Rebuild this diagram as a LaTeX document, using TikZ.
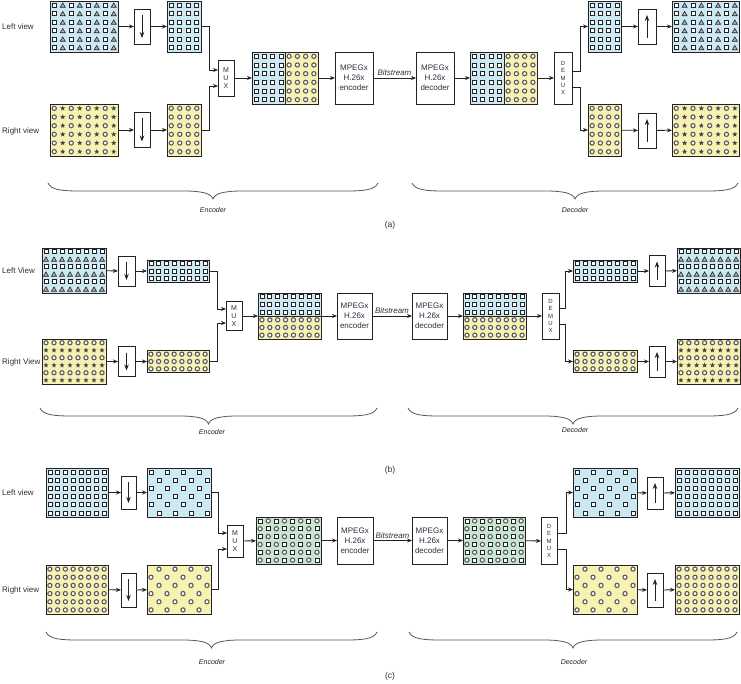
\documentclass[tikz,border=0pt]{standalone}
\usepackage{fontspec}
\setmainfont{Liberation Sans}
\usetikzlibrary{arrows.meta,calc}
\definecolor{cblue}{HTML}{CDE8F5}
\definecolor{cyel}{HTML}{F8F1B4}
\definecolor{cgreen}{HTML}{C8E5D2}
\definecolor{ink}{HTML}{222222}
\definecolor{txt}{HTML}{2E2E3E}
\tikzset{
 gbox/.style={draw=ink, line width=0.9pt, inner sep=0pt, outer sep=0pt},
 pbox/.style={draw=ink, fill=white, line width=0.8pt, inner sep=0pt, outer sep=0pt, align=center, font=\fontsize{8}{10}\selectfont, text=txt},
 muxbox/.style={pbox, font=\fontsize{7}{8}\selectfont},
 dmxbox/.style={pbox, font=\fontsize{6}{7.3}\selectfont},
 arr/.style={draw=ink, line width=0.8pt, -{Stealth[length=5pt,width=4pt]}},
 inarr/.style={arr, line width=0.9pt, shorten <=6pt, shorten >=6pt, -{Stealth[length=6pt,width=4.5pt]}},
 lbl/.style={anchor=west, font=\fontsize{8}{9}\selectfont, text=txt, inner sep=0pt},
 bitl/.style={above=1pt, inner sep=1pt, font=\fontsize{8}{9}\selectfont\itshape, text=txt},
 brl/.style={font=\fontsize{7}{8}\selectfont\itshape, text=ink, inner sep=0pt},
 capl/.style={font=\fontsize{8.5}{9}\selectfont, text=txt, inner sep=0pt},
 brc/.style={draw=ink!75, line width=0.8pt},
 symsq/.style={draw=ink, fill=white, line width=0.7pt},
 symci/.style={draw=ink!75, fill=white, line width=1.1pt},
 symtr/.style={draw=ink, fill=gray!60, line width=0.6pt},
 symst/.style={fill=ink!85},
}
\newcommand\mySq[2]{\draw[symsq] (#1-2,#2-2) rectangle (#1+2,#2+2);}
\newcommand\myCi[2]{\draw[symci] (#1,#2) circle[radius=2.1];}
\newcommand\myTr[2]{\draw[symtr] (#1,#2-2.3) -- (#1+2.5,#2+2) -- (#1-2.5,#2+2) -- cycle;}
\newcommand\mySt[2]{\fill[symst,shift={(#1,#2)}] (-90:2.7) -- (-54:1.15) -- (-18:2.7) -- (18:1.15) -- (54:2.7) -- (90:1.15) -- (126:2.7) -- (162:1.15) -- (198:2.7) -- (234:1.15) -- cycle;}
\newcommand\mySymb[3]{\ifcase#1\relax\mySq{#2}{#3}\or\myCi{#2}{#3}\or\myTr{#2}{#3}\or\mySt{#2}{#3}\else\fi}
% name, fill, cx, cy, w, h, ncols, nrows, type expression
\newcommand\gridnode[9]{%
  \node[gbox,fill=#2,minimum width=#5pt,minimum height=#6pt] (#1) at (#3,#4) {};
  \foreach \ci in {1,...,#7}{\foreach \ri in {1,...,#8}{%
    \pgfmathtruncatemacro\tp{#9}%
    \pgfmathsetmacro\cx{#3-#5/2+(\ci-0.5)*#5/#7}%
    \pgfmathsetmacro\cy{#4-#6/2+(\ri-0.5)*#6/#8}%
    \mySymb{\tp}{\cx}{\cy}}}}
% x0, x1, y
\newcommand\bracex[3]{%
  \pgfmathsetmacro\xm{(#1+#2)/2}%
  \draw[brc] (#1,#3) .. controls (#1+3,#3+7) and (#1+14,#3+8) .. (#1+32,#3+8) -- (\xm-30,#3+8) .. controls (\xm-12,#3+8) and (\xm-2,#3+10) .. (\xm,#3+16) .. controls (\xm+2,#3+10) and (\xm+12,#3+8) .. (\xm+30,#3+8) -- (#2-32,#3+8) .. controls (#2-14,#3+8) and (#2-3,#3+7) .. (#2,#3);}
\begin{document}
\begin{tikzpicture}[x=1pt,y=-1pt]
\useasboundingbox (0,0) rectangle (741,684);
%%%%%%%%%%%%%%%%%%%% (a)
\node[lbl] (aLt) at (2,27) {Left view};
\node[lbl] (aRt) at (2,131) {Right view};
\gridnode{aL}{cblue}{84}{26.5}{68}{51}{8}{6}{ifthenelse(mod(\ci,2)==1,0,2)}
\node[pbox,minimum width=16pt,minimum height=35pt] (aLd) at (142,26.5) {};
\gridnode{aLs}{cblue}{184}{26.5}{34}{51}{4}{6}{0}
\gridnode{aR}{cyel}{84}{130}{68}{52}{8}{6}{ifthenelse(mod(\ci,2)==1,1,3)}
\node[pbox,minimum width=16pt,minimum height=35pt] (aRd) at (142,130) {};
\gridnode{aRs}{cyel}{184}{130}{34}{52}{4}{6}{1}
\node[muxbox,minimum width=16pt,minimum height=36pt] (aMux) at (226,78) {M\\U\\X};
\gridnode{aCl}{cblue}{268.5}{78}{33}{52}{4}{6}{0}
\gridnode{aCr}{cyel}{301.5}{78}{33}{52}{4}{6}{1}
\node[gbox,minimum width=66pt,minimum height=52pt] (aC) at (285,78) {};
\node[pbox,minimum width=38pt,minimum height=52pt] (aEnc) at (354,78) {MPEGx\\H.26x\\encoder};
\node[pbox,minimum width=38pt,minimum height=52pt] (aDec) at (435,78) {MPEGx\\H.26x\\decoder};
\gridnode{aC2l}{cblue}{487}{78}{34}{52}{4}{6}{0}
\gridnode{aC2r}{cyel}{520.5}{78}{33}{52}{4}{6}{1}
\node[gbox,minimum width=67pt,minimum height=52pt] (aC2) at (503.5,78) {};
\node[dmxbox,minimum width=18pt,minimum height=52pt] (aDmx) at (563,78) {D\\E\\M\\U\\X};
\gridnode{aLs2}{cblue}{604.5}{26.5}{33}{51}{4}{6}{0}
\node[pbox,minimum width=18pt,minimum height=35pt] (aLu) at (647,26.5) {};
\gridnode{aL2}{cblue}{705.5}{26.5}{67}{51}{8}{6}{ifthenelse(mod(\ci,2)==1,0,2)}
\gridnode{aRs2}{cyel}{604.5}{130}{33}{52}{4}{6}{1}
\node[pbox,minimum width=18pt,minimum height=35pt] (aRu) at (647,130.5) {};
\gridnode{aR2}{cyel}{705.5}{130}{67}{52}{8}{6}{ifthenelse(mod(\ci,2)==1,1,3)}
\draw[arr] (aL) -- (aLd);
\draw[arr] (aLd) -- (aLs);
\draw[arr] (aR) -- (aRd);
\draw[arr] (aRd) -- (aRs);
\draw[inarr] (aLd.north) -- (aLd.south);
\draw[inarr] (aRd.north) -- (aRd.south);
\draw[arr] (aLs.east) -- ++(8,0) |- ([shift={(0,-8)}]aMux.west);
\draw[arr] (aRs.east) -- ++(8,0) |- ([shift={(0,8)}]aMux.west);
\draw[arr] (aMux) -- (aC);
\draw[arr] (aC) -- (aEnc);
\draw[arr] (aEnc) -- node[bitl] (aBit) {Bitstream} (aDec);
\draw[arr] (aDec) -- (aC2);
\draw[arr] (aC2) -- (aDmx);
\draw[arr] ([shift={(0,-7)}]aDmx.east) -- ++(8,0) |- (aLs2);
\draw[arr] ([shift={(0,9)}]aDmx.east) -- ++(8,0) |- (aRs2);
\draw[arr] (aLs2) -- (aLu);
\draw[arr] (aLu) -- (aL2);
\draw[arr] (aRs2) -- (aRu);
\draw[arr] (aRu) -- (aR2);
\draw[inarr] (aLu.south) -- (aLu.north);
\draw[inarr] (aRu.south) -- (aRu.north);
\bracex{48}{378}{183}
\bracex{412}{738}{183}
\node[brl] (aEl) at (213,210) {Encoder};
\node[brl] (aDl) at (575,210) {Decoder};
\node[capl] (aCap) at (390,225) {(a)};
%%%%%%%%%%%%%%%%%%%% (b)
\node[lbl] (bLt) at (2,271) {Left View};
\node[lbl] (bRt) at (2,362) {Right View};
\gridnode{bL}{cblue}{74}{270.5}{64}{45}{8}{6}{ifthenelse(mod(\ri,2)==1,0,2)}
\node[pbox,minimum width=17pt,minimum height=30pt] (bLd) at (126.5,271) {};
\gridnode{bLs}{cblue}{178}{271}{62}{22}{8}{3}{0}
\gridnode{bR}{cyel}{74}{361.5}{64}{45}{8}{6}{ifthenelse(mod(\ri,2)==1,1,3)}
\node[pbox,minimum width=17pt,minimum height=30pt] (bRd) at (126.5,361.5) {};
\gridnode{bRs}{cyel}{178}{361.5}{62}{22}{8}{3}{1}
\node[muxbox,minimum width=16pt,minimum height=29pt] (bMux) at (234,316) {M\\U\\X};
\gridnode{bCt}{cblue}{289.5}{304.5}{63}{23}{8}{3}{0}
\gridnode{bCb}{cyel}{289.5}{327.5}{63}{23}{8}{3}{1}
\node[gbox,minimum width=63pt,minimum height=46pt] (bC) at (289.5,316) {};
\node[pbox,minimum width=35pt,minimum height=46pt] (bEnc) at (354.5,316) {MPEGx\\H.26x\\encoder};
\node[pbox,minimum width=35pt,minimum height=46pt] (bDec) at (429.5,316) {MPEGx\\H.26x\\decoder};
\gridnode{bC2t}{cblue}{494.5}{304.5}{63}{23}{8}{3}{0}
\gridnode{bC2b}{cyel}{494.5}{327.5}{63}{23}{8}{3}{1}
\node[gbox,minimum width=63pt,minimum height=46pt] (bC2) at (494.5,316) {};
\node[dmxbox,minimum width=17pt,minimum height=46pt] (bDmx) at (550.5,316) {D\\E\\M\\U\\X};
\gridnode{bLs2}{cblue}{605}{271}{64}{22}{8}{3}{0}
\node[pbox,minimum width=16pt,minimum height=31pt] (bLu) at (657,271) {};
\gridnode{bL2}{cblue}{708.5}{270.5}{63}{45}{8}{6}{ifthenelse(mod(\ri,2)==1,0,2)}
\gridnode{bRs2}{cyel}{605}{361.5}{64}{22}{8}{3}{1}
\node[pbox,minimum width=16pt,minimum height=31pt] (bRu) at (657,361.5) {};
\gridnode{bR2}{cyel}{708.5}{361.5}{63}{45}{8}{6}{ifthenelse(mod(\ri,2)==1,1,3)}
\draw[arr] (bL) -- (bLd);
\draw[arr] (bLd) -- (bLs);
\draw[arr] (bR) -- (bRd);
\draw[arr] (bRd) -- (bRs);
\draw[inarr] (bLd.north) -- (bLd.south);
\draw[inarr] (bRd.north) -- (bRd.south);
\draw[arr] (bLs.east) -- ++(8,0) |- ([shift={(0,-7)}]bMux.west);
\draw[arr] (bRs.east) -- ++(8,0) |- ([shift={(0,7)}]bMux.west);
\draw[arr] (bMux) -- (bC);
\draw[arr] (bC) -- (bEnc);
\draw[arr] (bEnc) -- node[bitl] (bBit) {Bitstream} (bDec);
\draw[arr] (bDec) -- (bC2);
\draw[arr] (bC2) -- (bDmx);
\draw[arr] ([shift={(0,-8)}]bDmx.east) -- ++(6,0) |- (bLs2);
\draw[arr] ([shift={(0,8)}]bDmx.east) -- ++(6,0) |- (bRs2);
\draw[arr] (bLs2) -- (bLu);
\draw[arr] (bLu) -- (bL2);
\draw[arr] (bRs2) -- (bRu);
\draw[arr] (bRu) -- (bR2);
\draw[inarr] (bLu.south) -- (bLu.north);
\draw[inarr] (bRu.south) -- (bRu.north);
\bracex{40}{377}{408}
\bracex{408}{738}{408}
\node[brl] (bEl) at (212,432) {Encoder};
\node[brl] (bDl) at (575,430) {Decoder};
\node[capl] (bCap) at (390,470) {(b)};
%%%%%%%%%%%%%%%%%%%% (c)
\node[lbl] (cLt) at (2,493) {Left view};
\node[lbl] (cRt) at (2,590) {Right view};
\gridnode{cL}{cblue}{77}{492.5}{62}{49}{8}{6}{0}
\node[pbox,minimum width=15pt,minimum height=33pt] (cLd) at (128.5,492.5) {};
\gridnode{cLs}{cblue}{179}{492.5}{64}{49}{8}{6}{ifthenelse(mod(\ci+\ri,2)==0,0,4)}
\gridnode{cR}{cyel}{77}{589.5}{62}{49}{8}{6}{1}
\node[pbox,minimum width=15pt,minimum height=34pt] (cRd) at (128.5,590) {};
\gridnode{cRs}{cyel}{179}{589.5}{64}{49}{8}{6}{ifthenelse(mod(\ci+\ri,2)==1,1,4)}
\node[muxbox,minimum width=16pt,minimum height=32pt] (cMux) at (235,541) {M\\U\\X};
\gridnode{cC}{cgreen}{288.5}{540.5}{65}{47}{8}{6}{ifthenelse(mod(\ci+\ri,2)==0,0,1)}
\node[pbox,minimum width=36pt,minimum height=47pt] (cEnc) at (355,540.5) {MPEGx\\H.26x\\encoder};
\node[pbox,minimum width=35pt,minimum height=47pt] (cDec) at (429.5,540.5) {MPEGx\\H.26x\\decoder};
\gridnode{cC2}{cgreen}{494}{540.5}{62}{47}{8}{6}{ifthenelse(mod(\ci+\ri,2)==0,0,1)}
\node[dmxbox,minimum width=16pt,minimum height=47pt] (cDmx) at (549,541) {D\\E\\M\\U\\X};
\gridnode{cLs2}{cblue}{605}{492.5}{64}{49}{8}{6}{ifthenelse(mod(\ci+\ri,2)==0,0,4)}
\node[pbox,minimum width=16pt,minimum height=32pt] (cLu) at (655,493) {};
\gridnode{cL2}{cblue}{707}{492.5}{64}{49}{8}{6}{0}
\gridnode{cRs2}{cyel}{605}{589.5}{64}{49}{8}{6}{ifthenelse(mod(\ci+\ri,2)==1,1,4)}
\node[pbox,minimum width=16pt,minimum height=34pt] (cRu) at (655,590) {};
\gridnode{cR2}{cyel}{707}{589.5}{64}{49}{8}{6}{1}
\draw[arr] (cL) -- (cLd);
\draw[arr] (cLd) -- (cLs);
\draw[arr] (cR) -- (cRd);
\draw[arr] (cRd) -- (cRs);
\draw[inarr] (cLd.north) -- (cLd.south);
\draw[inarr] (cRd.north) -- (cRd.south);
\draw[arr] (cLs.east) -- ++(7,0) |- ([shift={(0,-8)}]cMux.west);
\draw[arr] (cRs.east) -- ++(7,0) |- ([shift={(0,8)}]cMux.west);
\draw[arr] (cMux) -- (cC);
\draw[arr] (cC) -- (cEnc);
\draw[arr] (cEnc) -- node[bitl] (cBit) {Bitstream} (cDec);
\draw[arr] (cDec) -- (cC2);
\draw[arr] (cC2) -- (cDmx);
\draw[arr] ([shift={(0,-8)}]cDmx.east) -- ++(9,0) |- (cLs2);
\draw[arr] ([shift={(0,8)}]cDmx.east) -- ++(9,0) |- (cRs2);
\draw[arr] (cLs2) -- (cLu);
\draw[arr] (cLu) -- (cL2);
\draw[arr] (cRs2) -- (cRu);
\draw[arr] (cRu) -- (cR2);
\draw[inarr] (cLu.south) -- (cLu.north);
\draw[inarr] (cRu.south) -- (cRu.north);
\bracex{46}{377}{632}
\bracex{409}{737}{632}
\node[brl] (cEl) at (212,662) {Encoder};
\node[brl] (cDl) at (574,662) {Decoder};
\node[capl] (cCap) at (390,676) {(c)};
\end{tikzpicture}
\end{document}
